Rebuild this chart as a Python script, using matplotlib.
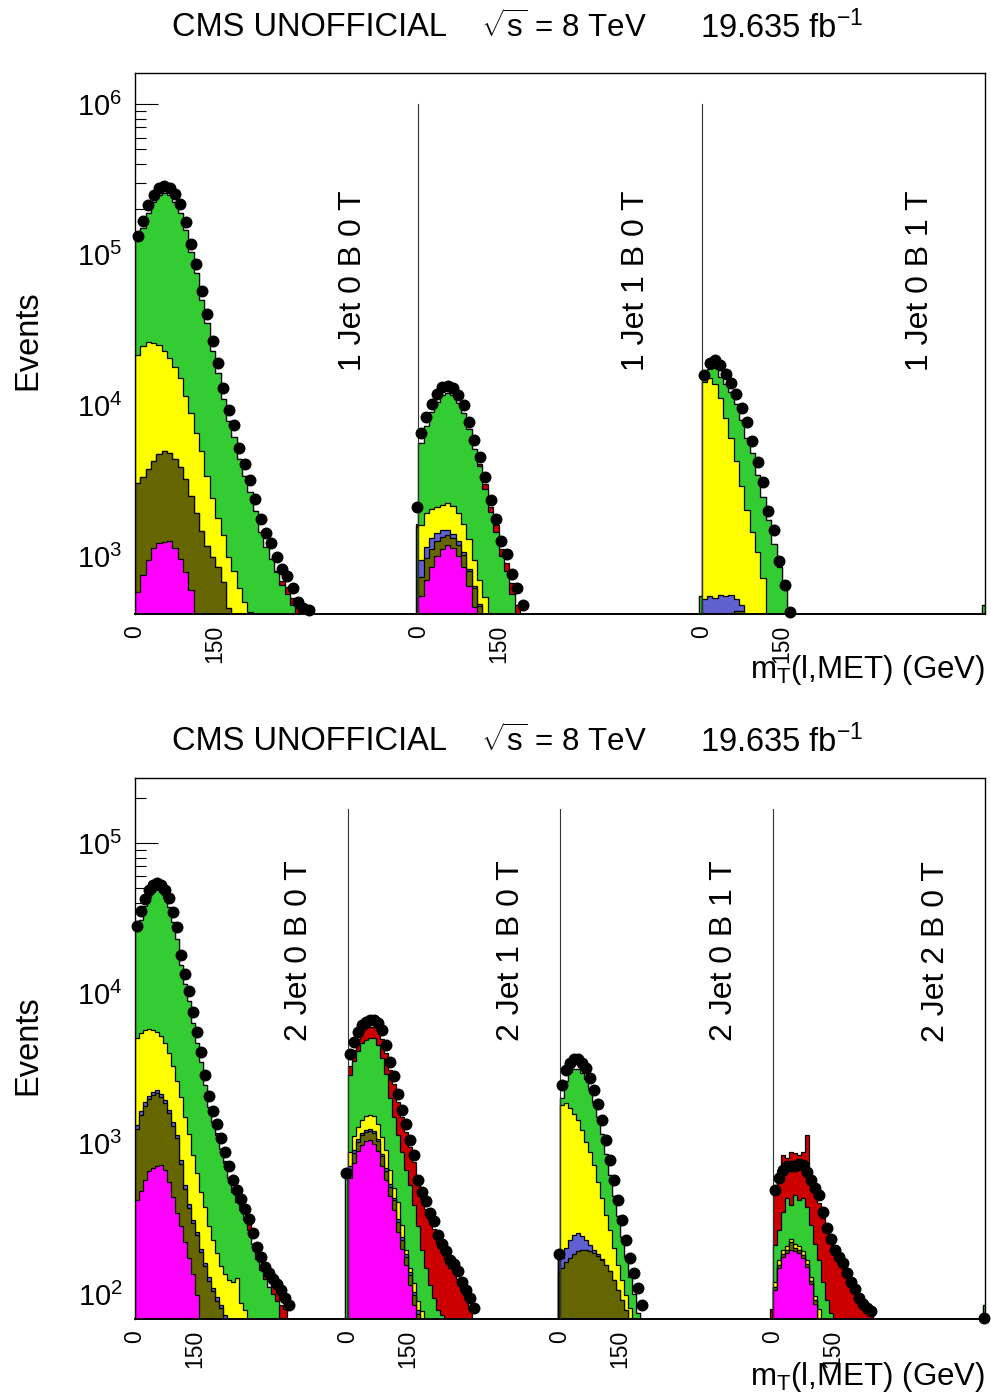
import numpy as np
import matplotlib
matplotlib.use('Agg')
import matplotlib.pyplot as plt
import matplotlib.transforms as mtransforms
from matplotlib.ticker import LogLocator, NullFormatter

plt.rcParams['font.family'] = ['Liberation Sans', 'DejaVu Sans']
plt.rcParams['mathtext.fontset'] = 'custom'
plt.rcParams['mathtext.rm'] = 'Liberation Sans'
plt.rcParams['mathtext.it'] = 'Liberation Sans:italic'
plt.rcParams['mathtext.bf'] = 'Liberation Sans:bold'

# ---------------- data (10 GeV bins per category, values per bin) ----------------
top_labels = ['1 Jet 0 B 0 T', '1 Jet 1 B 0 T', '1 Jet 0 B 1 T']
bottom_labels = ['2 Jet 0 B 0 T', '2 Jet 1 B 0 T', '2 Jet 0 B 1 T', '2 Jet 2 B 0 T']
tick_values = [0, 150]
tick_labels = ['0', '150']

# top panel, category 1
t1_data = [133000, 167000, 214000, 249000, 277000, 286000, 277000, 253000, 217000, 165000, 118000, 86700,
           57400, 40400, 26800, 19100, 13000, 9310, 7410, 5210, 4080, 3200, 2390, 1760, 1420, 1220, 986,
           820, 738, 614, 495, 453, 439]
t1_magenta = [578, 750, 942, 1130, 1220, 1240, 1250, 1130, 960, 784, 596]
t1_olive = [2480, 2600, 2850, 3150, 3540, 3740, 3580, 3280, 2940, 2470, 1910, 1930, 1470, 1170, 986, 847, 673, 450]
t1_blue = []
t1_yellow = [18500, 21450, 22600, 21700, 20400, 17900, 15800, 13600, 11300, 8250, 6390, 4630, 3510, 2230,
             1440, 943, 707, 536, 796, 614, 495, 426]
t1_green = [106400, 125200, 163600, 199000, 224800, 235100, 229400, 207000, 174800, 133500, 95100, 69440,
            45020, 31600, 20570, 14710, 9620, 6914, 5404, 3786, 2905, 2224, 2000, 1450, 1150, 950, 780,
            640, 560, 470, 400]
t1_red = [0] * 26 + [20, 40, 60, 60, 50]
t1_over = {'green': 1550, 'red': 80, 'data': 2120}

# top panel, category 2
t2_data = [6560, 8370, 10200, 11900, 13200, 13500, 13000, 11700, 10100, 7760, 5890, 4550, 3350, 2360,
           1760, 1260, 1030, 760, 614, 474]
t2_magenta = [543, 694, 847, 1000, 1110, 1190, 1130, 1000, 847, 634, 459]
t2_olive = [184, 277, 263, 260, 230, 190, 190, 190, 173, 162, 155, 467]
t2_blue = [215, 180, 210, 160, 140, 100, 80, 70, 40, 30, 20, 15]
t2_yellow = [668, 780, 730, 700, 700, 770, 750, 670, 580, 471, 304, 210, 535, 420]
t2_green = [3990, 5370, 6950, 8380, 9520, 9850, 9550, 8470, 7270, 5620, 4200, 3237, 2265, 1530, 1450,
            1000, 800, 560]
t2_red = [0] * 11 + [150, 200, 150, 150, 120, 100, 100, 470]
t2_over = {'green': 540, 'data': 0}

# top panel, category 3
t3_data = [15900, 19100, 20000, 18500, 16200, 14100, 11900, 9610, 7760, 5800, 4210, 3100, 1990, 1490,
           927, 643, 426]
t3_magenta = []
t3_olive = [0, 0, 0, 0, 0, 420, 430, 430]
t3_blue = [520, 540, 530, 550, 540, 130, 90, 40]
t3_yellow = [13780, 14660, 13370, 10650, 7710, 5520, 3760, 2450, 2020, 1445, 1060, 716]
t3_green = [1100, 2200, 3800, 4200, 5650, 6220, 5920, 5080, 4060, 3385, 2390, 1754, 1740, 1200, 847, 614]
t3_red = []
t3_over = {'green': 470, 'data': 0}

# bottom panel, category 1
b1_data = [28000, 35300, 42400, 48700, 52600, 54200, 52600, 48700, 43100, 34800, 27600, 18000, 13400,
           10400, 7510, 5530, 4070, 2860, 2070, 1650, 1350, 1090, 880, 710, 573, 491, 428, 367, 315, 254,
           205, 176, 151, 138, 126, 116, 106, 94, 84]
b1_magenta = [421, 484, 573, 657, 688, 709, 721, 667, 556, 441, 345, 283, 221, 173, 136, 98]
b1_olive = [829, 1076, 1222, 1313, 1412, 1471, 1334, 1193, 1034, 879, 740, 455, 280, 203, 159, 148, 189,
            153, 123, 104, 90, 81, 69]
b1_blue = [80, 90, 95, 100, 100, 100, 95, 90, 80, 70, 55, 40, 30, 20, 15, 12, 10, 8, 6, 5, 5, 4, 4]
b1_yellow = [3710, 3790, 3810, 3760, 3500, 3250, 3050, 2720, 2340, 1890, 1470, 1262, 969, 764, 530, 379,
             277, 217, 154, 119, 92, 68, 63, 124, 121, 128, 87, 78]
b1_green = [20960, 25560, 32300, 38170, 41800, 42970, 41800, 38330, 33490, 26720, 20390, 13460, 10000,
            7740, 5560, 4063, 3024, 2072, 1467, 1172, 963, 767, 604, 466, 359, 282, 273, 232, 265, 215,
            170, 145, 125, 112, 100, 90]
b1_red = [0] * 20 + [30, 0, 30, 0, 30, 0, 30, 0, 30, 0, 25, 0, 20, 0, 20, 20, 85, 80]
b1_over = {'olive': 50, 'green': 600, 'data': 640}

# bottom panel, category 2
b2_data = [3950, 4740, 5530, 6150, 6440, 6640, 6640, 6340, 5700, 4530, 3490, 2820, 2140, 1670, 1350,
           1060, 840, 573, 476, 415, 345, 305, 247, 215, 193, 168, 158, 142, 120, 106, 94, 81]
b2_magenta = [590, 743, 893, 979, 1040, 1060, 1000, 893, 709, 573, 448, 361, 258, 199, 156, 115, 84]
b2_olive = [89, 123, 137, 161, 150, 150, 170, 142, 114, 90, 70, 59, 45, 30, 20, 19, 14, 74]
b2_blue = [30, 40, 40, 40, 40, 40, 40, 35, 30, 25, 20, 15, 12, 10, 8, 6, 5, 4]
b2_yellow = [171, 214, 220, 260, 300, 310, 320, 280, 257, 218, 129, 72, 93, 48, 12, 9, 15, 12, 77]
b2_green = [1980, 2430, 2840, 3230, 3360, 3480, 3510, 3180, 2600, 1994, 1343, 993, 732, 593, 471, 382,
            272, 193, 119, 149, 115, 94, 78, 72]
b2_red = [440, 650, 870, 930, 1010, 960, 960, 1170, 1290, 1100, 1090, 1000, 760, 620, 533, 419, 360, 247,
          234, 221, 195, 176, 142, 118, 170, 150, 140, 125, 105, 92, 80]
b2_over = {'olive': 140, 'blue': 40, 'data': 185}

# bottom panel, category 3
b3_data = [2450, 3090, 3440, 3660, 3660, 3440, 3180, 2730, 2280, 1830, 1440, 1060, 778, 573, 421, 310,
           228, 173, 138, 109, 84]
b3_magenta = []
b3_olive = [149, 163, 173, 184, 193, 196, 196, 193, 187, 180, 168, 156, 142, 124, 106, 91, 78]
b3_blue = [25, 40, 55, 63, 63, 48, 32, 19, 10, 4, 2]
b3_yellow = [1637, 1668, 1502, 1323, 1184, 986, 797, 668, 525, 374, 267, 179, 124, 78, 50, 33, 20, 81]
b3_green = [190, 730, 1270, 1580, 1710, 1720, 1675, 1420, 1179, 944, 715, 515, 354, 248, 174, 116, 77,
            49, 100, 75]
b3_red = []
b3_over = {'red': 80, 'data': 0}

# bottom panel, category 4
b4_data = [491, 590, 667, 710, 710, 710, 731, 721, 647, 573, 507, 455, 351, 274, 232, 196, 176, 161, 138,
           120, 108, 94, 86, 81, 77]
b4_magenta = [106, 149, 176, 187, 196, 193, 187, 173, 151, 116, 86]
b4_olive = [5, 8, 8, 9, 25, 9, 9, 8, 7, 6, 5]
b4_blue = []
b4_yellow = [10, 12, 12, 13, 12, 12, 12, 12, 10, 8, 6, 80]
b4_green = [90, 97, 155, 226, 157, 241, 213, 242, 210, 157, 118, 88, 120, 91, 75]
b4_red = [280, 401, 489, 370, 490, 411, 419, 445, 762, 331, 292, 234, 200, 175, 146, 196, 173, 151, 138,
          120, 106, 94, 86, 78, 73]
b4_over = {'green': 85, 'data': 69}

# ---------------- styling ----------------
SEG = 530.0
BIN = 10.0
NB = 53
ORDER = ['magenta', 'olive', 'blue', 'yellow', 'green', 'red']
COLORS = {'magenta': '#ff00ff', 'olive': '#666600', 'blue': '#6060d0',
          'yellow': '#ffff00', 'green': '#33cc33', 'red': '#cc0000'}
MS = 8.6


def pad(a):
    out = np.zeros(NB)
    out[:len(a)] = a
    return out


def draw_stack(ax, edges, comps, floor):
    vals = np.array(comps, dtype=float)
    cum = np.cumsum(vals, axis=0)
    for k in reversed(range(len(ORDER))):
        top = np.where(cum[k] > 0, cum[k], floor)
        ax.stairs(top, edges, baseline=floor, fill=True, facecolor=COLORS[ORDER[k]],
                  edgecolor='none', zorder=2)
        ax.stairs(top, edges, baseline=floor, fill=False, color='black', lw=0.9, zorder=2)


def draw_segment(ax, idx, seg, floor):
    off = idx * SEG
    data, mag, oli, blu, yel, gre, red, over = seg
    edges = off + np.arange(NB + 1) * BIN
    comps = [pad(mag), pad(oli), pad(blu), pad(yel), pad(gre), pad(red)]
    draw_stack(ax, edges, comps, floor)
    # overflow (narrow last bin)
    oedges = np.array([off + 525.0, off + 530.0])
    ocomps = [np.array([float(over.get(n, 0))]) for n in ORDER]
    if sum(c[0] for c in ocomps) > 0:
        draw_stack(ax, oedges, ocomps, floor)
    # data points
    d = pad(data)
    centers = off + (np.arange(NB) + 0.5) * BIN
    m = d > 0
    ax.plot(centers[m], d[m], 'o', color='black', ms=MS, mew=0, zorder=5, clip_on=False)
    if over.get('data', 0) > 0:
        ax.plot([off + 527.5], [over['data']], 'o', color='black', ms=MS, mew=0, zorder=5,
                clip_on=False)


top_segments = [
    (t1_data, t1_magenta, t1_olive, t1_blue, t1_yellow, t1_green, t1_red, t1_over),
    (t2_data, t2_magenta, t2_olive, t2_blue, t2_yellow, t2_green, t2_red, t2_over),
    (t3_data, t3_magenta, t3_olive, t3_blue, t3_yellow, t3_green, t3_red, t3_over),
]
bottom_segments = [
    (b1_data, b1_magenta, b1_olive, b1_blue, b1_yellow, b1_green, b1_red, b1_over),
    (b2_data, b2_magenta, b2_olive, b2_blue, b2_yellow, b2_green, b2_red, b2_over),
    (b3_data, b3_magenta, b3_olive, b3_blue, b3_yellow, b3_green, b3_red, b3_over),
    (b4_data, b4_magenta, b4_olive, b4_blue, b4_yellow, b4_green, b4_red, b4_over),
]

W, H = 991, 1397
fig = plt.figure(figsize=(W / 100, H / 100), dpi=100)

panels = [
    dict(rect=[135 / W, 1 - 614 / H, 850 / W, 541 / H], segs=top_segments, labels=top_labels,
         ylim=(412, 1.61e6), label_y=0.6155, title_y=28, events_y=340, xtitle_y=678),
    dict(rect=[135 / W, 1 - 1319 / H, 850 / W, 541 / H], segs=bottom_segments, labels=bottom_labels,
         ylim=(68.2, 2.71e5), label_y=0.680, title_y=742, events_y=1045, xtitle_y=1385),
]

for p in panels:
    ax = fig.add_axes(p['rect'])
    nseg = len(p['segs'])
    ax.set_yscale('log')
    floor = p['ylim'][0] * 0.01
    for i, seg in enumerate(p['segs']):
        draw_segment(ax, i, seg, floor)
    ax.set_xlim(0, nseg * SEG)
    ax.set_ylim(*p['ylim'])
    # separators
    for i in range(1, nseg):
        ax.axvline(i * SEG, ymin=0, ymax=0.943, color='#333333', lw=0.8, zorder=3)
    # category labels
    trans = mtransforms.blended_transform_factory(ax.transData, ax.transAxes)
    for i, lab in enumerate(p['labels']):
        ax.text(i * SEG + 408, p['label_y'], lab, transform=trans, rotation=90,
                ha='center', va='center', fontsize=23, zorder=6)
    # x ticks
    pos, labs = [], []
    for i in range(nseg):
        for v, l in zip(tick_values, tick_labels):
            pos.append(i * SEG + v)
            labs.append(l)
    ax.set_xticks(pos)
    ax.set_xticklabels(labs, rotation=90, fontsize=16.5)
    ax.tick_params(axis='x', length=0, pad=8)
    # y ticks
    ax.yaxis.set_major_locator(LogLocator(base=10, numticks=20))
    ax.yaxis.set_minor_locator(LogLocator(base=10, subs=np.arange(2, 10), numticks=60))
    ax.yaxis.set_minor_formatter(NullFormatter())
    ax.tick_params(axis='y', which='major', direction='in', length=16.5, width=0.8,
                   labelsize=21, pad=9)
    ax.tick_params(axis='y', which='minor', direction='in', length=8, width=0.8)
    for sp in ax.spines.values():
        sp.set_linewidth(1.0)
    ax.spines['bottom'].set_linewidth(1.4)
    # titles
    ty = 1 - p['title_y'] / H
    fig.text(172 / W, ty, 'CMS UNOFFICIAL', fontsize=23.5, ha='left', va='center')
    fig.text(481 / W, ty, r'$\sqrt{\mathrm{s}}$ = 8 TeV', fontsize=22.5, ha='left', va='center')
    fig.text(700 / W, ty, r'19.635 fb$^{\mathrm{-1}}$', fontsize=23.5, ha='left', va='center')
    fig.text(28 / W, 1 - p['events_y'] / H, 'Events', fontsize=23.5, rotation=90,
             ha='center', va='center')
    fig.text(985 / W, 1 - p['xtitle_y'] / H, r'm$_{\mathrm{T}}$(l,MET) (GeV)', fontsize=22.5,
             ha='right', va='baseline')

fig.savefig('out.png', dpi=100)
